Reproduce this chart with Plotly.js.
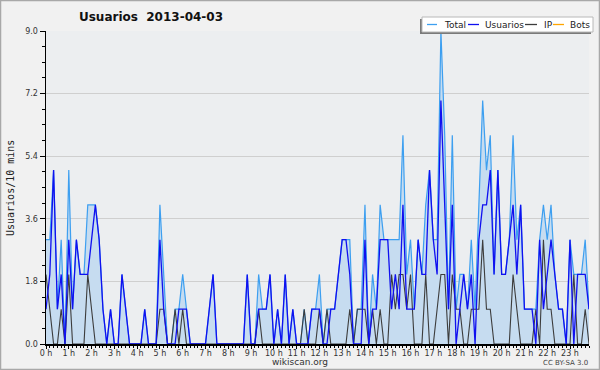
<!DOCTYPE html>
<html>
<head>
<meta charset="utf-8">
<script src="https://cdn.plot.ly/plotly-3.0.1.min.js"></script>
<style>html,body{margin:0;padding:0;background:#f1f1f1;}#chart{width:600px;height:370px;}</style>
</head>
<body>
<div id="chart"></div>
<script>
// 10-minute slots of 2013-04-03 (index 0 = 00:00 ... 143 = 23:50)
const hourLabels = ["0 h","1 h","2 h","3 h","4 h","5 h","6 h","7 h","8 h","9 h","10 h","11 h","12 h","13 h","14 h","15 h","16 h","17 h","18 h","19 h","20 h","21 h","22 h","23 h"];
const seriesNames = ["Total","Usuarios","IP","Bots"];

const total = [3,3,5,1,3,0,5,1,3,2,2,4,4,4,3,1,0,1,0,0,2,1,0,0,
  0,0,1,0,0,0,4,2,0,0,1,1,2,1,0,0,0,0,0,1,2,0,0,0,
  0,0,0,0,0,2,0,0,2,1,1,2,0,1,0,2,0,1,0,0,1,0,1,1,
  2,0,1,1,1,2,3,3,3,0,1,1,4,0,2,1,4,3,3,3,3,3,6,2,
  3,1,3,2,4,5,3,3,9,6,1,6,1,2,2,1,3,1,4,7,5,6,2,5,
  2,2,3,6,3,4,1,1,1,1,3,4,3,4,2,1,1,0,3,2,2,2,3,1];
const usuarios = [1,2,5,1,2,0,3,1,3,2,2,2,3,4,3,1,0,1,0,0,2,1,0,0,
  0,0,1,0,0,0,3,1,0,0,0,1,1,1,0,0,0,0,0,1,2,0,0,0,
  0,0,0,0,0,2,0,0,1,1,1,2,0,1,0,2,0,1,0,0,0,0,1,1,
  1,0,0,1,1,2,3,3,2,0,0,0,3,0,1,1,3,3,3,1,2,1,4,1,
  1,1,3,2,2,5,3,2,7,4,1,4,0,1,2,1,2,0,3,4,4,5,2,5,
  2,2,3,4,2,4,1,1,1,0,3,1,2,3,2,1,1,0,3,0,2,2,2,1];
const ip = [2,1,0,0,1,0,2,0,0,0,0,2,1,0,0,0,0,0,0,0,0,0,0,0,
  0,0,0,0,0,0,1,1,0,0,1,0,1,0,0,0,0,0,0,0,0,0,0,0,
  0,0,0,0,0,0,0,0,1,0,0,0,0,0,0,0,0,0,0,0,1,0,0,0,
  1,0,1,0,0,0,0,0,1,0,1,1,1,0,1,0,1,0,0,2,1,2,2,1,
  2,0,0,0,2,0,0,1,2,2,0,2,1,1,0,0,1,1,1,3,1,1,0,0,
  0,0,0,2,1,0,0,0,0,1,0,3,1,1,0,0,0,0,0,2,0,0,1,0];
const bots = new Array(144).fill(0);

const slots = total.map((_, i) => i / 6); // hours

// pixel helpers for decorations (plot area: x 46..589, y 31..344)
const L = 46, R = 589, T = 31, B = 344;
const px = v => (v - L) / (R - L);
const py = v => (B - v) / (B - T);

const traces = [
  {x: slots, y: bots, name: seriesNames[3], mode: 'lines', line: {color: '#ffa500', width: 1}, hoverinfo: 'skip'},
  {x: slots, y: total, name: seriesNames[0], mode: 'lines', fill: 'tozeroy', fillcolor: '#c6dcf0', line: {color: '#3d9ff0', width: 1.2}},
  {x: slots, y: ip, name: seriesNames[2], mode: 'lines', line: {color: '#3c3c3c', width: 1.1}},
  {x: slots, y: usuarios, name: seriesNames[1], mode: 'lines', line: {color: '#1010f0', width: 1.3}}
];

const legendItems = [
  {name: seriesNames[0], color: '#3d9ff0', x0: 427, x1: 437, tx: 442},
  {name: seriesNames[1], color: '#1010f0', x0: 468, x1: 479, tx: 483},
  {name: seriesNames[2], color: '#3c3c3c', x0: 525, x1: 537, tx: 542},
  {name: seriesNames[3], color: '#ffa500', x0: 553, x1: 564, tx: 568}
];

const shapes = [
  {type: 'rect', xref: 'paper', yref: 'paper', x0: px(0.5), x1: px(599.5), y0: py(0.5), y1: py(369.5), line: {color: '#a8a8a8', width: 1.5}, layer: 'below'},
  {type: 'rect', xref: 'paper', yref: 'paper', x0: px(420), x1: px(591), y0: py(19), y1: py(34), fillcolor: '#7a7a7a', line: {width: 0}},
  {type: 'rect', xref: 'paper', yref: 'paper', x0: px(422), x1: px(593), y0: py(17), y1: py(32), fillcolor: '#ffffff', line: {color: '#b8b8b8', width: 1}}
];
const annotations = [
  {xref: 'paper', yref: 'paper', x: px(10), y: py(188), text: 'Usuarios/10 mins', textangle: -90, showarrow: false, font: {family: 'DejaVu Sans Mono', size: 10, color: '#222'}, xanchor: 'center', yanchor: 'middle'},
  {xref: 'paper', yref: 'paper', x: px(300), y: py(362), text: 'wikiscan.org', showarrow: false, font: {family: 'DejaVu Sans', size: 9, color: '#333'}, xanchor: 'center', yanchor: 'middle'},
  {xref: 'paper', yref: 'paper', x: px(590), y: py(363), text: 'CC BY-SA 3.0', showarrow: false, font: {family: 'DejaVu Sans', size: 7, color: '#444'}, xanchor: 'right', yanchor: 'middle'}
];
legendItems.forEach(it => {
  shapes.push({type: 'line', xref: 'paper', yref: 'paper', x0: px(it.x0), x1: px(it.x1), y0: py(24.5), y1: py(24.5), line: {color: it.color, width: 1.3}});
  annotations.push({xref: 'paper', yref: 'paper', x: px(it.tx), y: py(24.5), text: it.name, showarrow: false, font: {family: 'DejaVu Sans', size: 9, color: '#222'}, xanchor: 'left', yanchor: 'middle'});
});

const layout = {
  width: 600, height: 370,
  margin: {l: L, r: 600 - R, t: T, b: 370 - B, pad: 0},
  paper_bgcolor: '#f1f1f1', plot_bgcolor: '#eceef0',
  showlegend: false,
  title: {text: 'Usuarios\u00a0\u00a02013-04-03', font: {family: 'DejaVu Sans', size: 12, color: '#111', weight: 'bold'}, x: 151 / 600, xanchor: 'center', xref: 'container', y: 1 - 17 / 370, yanchor: 'middle', yref: 'container'},
  xaxis: {
    range: [0, 143 / 6], tickmode: 'array', tickvals: hourLabels.map((_, h) => h), ticktext: hourLabels,
    ticks: 'outside', ticklen: 3.5, tickcolor: '#000', tickwidth: 1, showgrid: false, zeroline: false,
    showline: true, linecolor: '#000', linewidth: 1.5,
    ticklabelstandoff: -3,
    tickfont: {family: 'DejaVu Sans', size: 8, color: '#333'},
    minor: {dtick: 1 / 6, tick0: 0, ticks: 'outside', ticklen: 2.2, tickcolor: '#000', showgrid: false}
  },
  yaxis: {
    range: [0, 9], tick0: 0, dtick: 1.8, tickformat: '.1f',
    ticks: 'outside', ticklen: 5, tickcolor: '#000', tickwidth: 1,
    showgrid: true, gridcolor: '#cfcfcf', gridwidth: 1, zeroline: false,
    showline: true, linecolor: '#000', linewidth: 1.5,
    tickfont: {family: 'DejaVu Sans', size: 8, color: '#333'},
    minor: {dtick: 0.45, tick0: 0, ticks: 'outside', ticklen: 3, tickcolor: '#000', showgrid: false}
  },
  shapes: shapes,
  annotations: annotations
};

Plotly.newPlot('chart', traces, layout, {staticPlot: true});
</script>
</body>
</html>
